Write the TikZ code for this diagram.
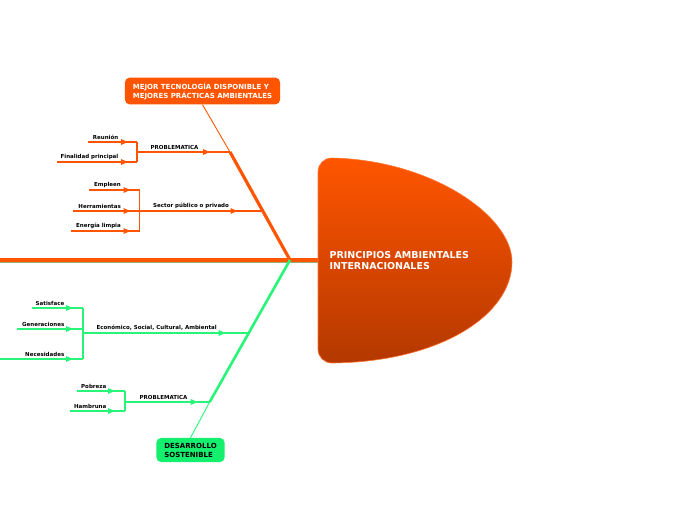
\documentclass[tikz,border=0pt]{standalone}
\usepackage{fontspec}
\setmainfont{DejaVu Sans}
\usetikzlibrary{arrows.meta,positioning,decorations.markings}
\definecolor{maporange}{RGB}{255,85,0}
\definecolor{mapgreen}{RGB}{40,245,120}
\definecolor{boxgreen}{RGB}{20,240,110}
\definecolor{headtop}{RGB}{255,85,0}
\definecolor{headbot}{RGB}{180,56,0}
\definecolor{spineedge}{RGB}{150,175,120}

\begin{document}
\begin{tikzpicture}[x=1pt,y=-1pt,
    topic/.style={rounded corners=5pt, font=\fontsize{7}{9}\selectfont\bfseries,
                  align=left, inner xsep=8pt, inner ysep=5pt},
    lbl/.style={font=\fontsize{5.5}{6}\selectfont\bfseries, inner sep=0.5pt},
    branch/.style={line width=1.5pt},
    tip/.style={postaction={decorate}, decoration={markings,
                mark=at position #1 with {\arrow{Triangle[length=7pt,width=5.5pt]}}}}
  ]
  \useasboundingbox (0,0) rectangle (696,520);

  % spine and head
  \coordinate (tail) at (0,260);
  \coordinate (headL) at (318,260);
  \coordinate (J) at (290,260);
  \draw[spineedge, line width=5pt] (tail) -- (headL);
  \draw[maporange, line width=3.8pt] (tail) -- (headL);
  \shade[top color=headtop, bottom color=headbot, draw=maporange!80, line width=0.6pt]
    (318,172) .. controls (318,164) and (324,158) .. (332,158)
    .. controls (430,160) and (512,215) .. (512,262)
    .. controls (512,315) and (440,362) .. (332,363)
    .. controls (324,363) and (318,357) .. (318,349) -- cycle;
  \node[font=\fontsize{9.5}{11}\selectfont\bfseries, text=white, align=left, anchor=west]
    (head) at (326,261) {PRINCIPIOS AMBIENTALES\\INTERNACIONALES};

  % upper bone
  \node[topic, fill=maporange, text=white] (tec) at (202.5,91)
    {MEJOR TECNOLOGÍA DISPONIBLE Y\\MEJORES PRÁCTICAS AMBIENTALES};
  \coordinate (b1) at (230,152);
  \coordinate (b2) at (262.5,211);
  \draw[maporange, line width=3.2pt] (J) -- (b1);
  \draw[maporange, line width=0.9pt] (b1) -- (tec.south);

  \coordinate (p1) at (137,152);
  \coordinate (r1) at (137,142);
  \coordinate (r1s) at (88,142);
  \coordinate (f1) at (137,162);
  \coordinate (f1s) at (57,162);
  \draw[branch, maporange, tip=-20pt] (p1) -- (b1);
  \draw[branch, maporange, tip=-9pt] (r1s) -- (r1);
  \draw[branch, maporange, tip=-9pt] (f1s) -- (f1);
  \draw[branch, maporange] (r1) -- (f1);
  \node[lbl, above right=2pt and 13pt of p1] (prob1) {PROBLEMATICA};
  \node[lbl, above left=2pt and 18pt of r1] (reu) {Reunión};
  \node[lbl, above left=2pt and 18pt of f1] (fin) {Finalidad principal};

  \coordinate (p2) at (139.5,211);
  \coordinate (e2) at (139.5,190);
  \coordinate (e2s) at (89,190);
  \coordinate (h2) at (139.5,211);
  \coordinate (h2s) at (73,211);
  \coordinate (l2) at (139.5,231);
  \coordinate (l2s) at (71,231);
  \draw[branch, maporange, tip=-25pt] (p2) -- (b2);
  \draw[branch, maporange, tip=-9pt] (e2s) -- (e2);
  \draw[branch, maporange, tip=-9pt] (h2s) -- (h2);
  \draw[branch, maporange, tip=-9pt] (l2s) -- (l2);
  \draw[branch, maporange] (e2) -- (l2);
  \node[lbl, above right=2pt and 13pt of p2] (sect) {Sector público o privado};
  \node[lbl, above left=2pt and 18pt of e2] (emp) {Empleen};
  \node[lbl, above left=2pt and 18pt of h2] (her) {Herramientas};
  \node[lbl, above left=2pt and 18pt of l2] (ene) {Energía limpia};

  % lower bone
  \node[topic, fill=boxgreen, text=black] (des) at (190.5,450) {DESARROLLO\\SOSTENIBLE};
  \coordinate (b3) at (248.7,333);
  \coordinate (b4) at (209.7,402);
  \draw[mapgreen, line width=2.6pt] (J) -- (b4);
  \draw[mapgreen, line width=0.9pt] (b4) -- (des.north);

  \coordinate (p3) at (83,333);
  \coordinate (s3) at (83,308);
  \coordinate (s3s) at (32,308);
  \coordinate (g3) at (83,329);
  \coordinate (g3s) at (17,329);
  \coordinate (n3) at (83,359);
  \coordinate (n3s) at (0,359);
  \draw[branch, mapgreen, tip=-23pt] (p3) -- (b3);
  \draw[branch, mapgreen, tip=-10pt] (s3s) -- (s3);
  \draw[branch, mapgreen, tip=-10pt] (g3s) -- (g3);
  \draw[branch, mapgreen, tip=-10pt] (n3s) -- (n3);
  \draw[branch, mapgreen] (s3) -- (n3);
  \node[lbl, above right=2pt and 13pt of p3] (eco) {Económico, Social, Cultural, Ambiental};
  \node[lbl, above left=2pt and 18pt of s3] (sat) {Satisface};
  \node[lbl, above left=2pt and 18pt of g3] (gen) {Generaciones};
  \node[lbl, above left=2pt and 18pt of n3] (nec) {Necesidades};

  \coordinate (p4) at (125,402);
  \coordinate (o4) at (125,391);
  \coordinate (o4s) at (77,391);
  \coordinate (m4) at (125,411);
  \coordinate (m4s) at (70,411);
  \draw[branch, mapgreen, tip=-12pt] (p4) -- (b4);
  \draw[branch, mapgreen, tip=-10pt] (o4s) -- (o4);
  \draw[branch, mapgreen, tip=-10pt] (m4s) -- (m4);
  \draw[branch, mapgreen] (o4) -- (m4);
  \node[lbl, above right=2pt and 14pt of p4] (prob2) {PROBLEMATICA};
  \node[lbl, above left=2pt and 18pt of o4] (pob) {Pobreza};
  \node[lbl, above left=2pt and 18pt of m4] (ham) {Hambruna};
\end{tikzpicture}
\end{document}
